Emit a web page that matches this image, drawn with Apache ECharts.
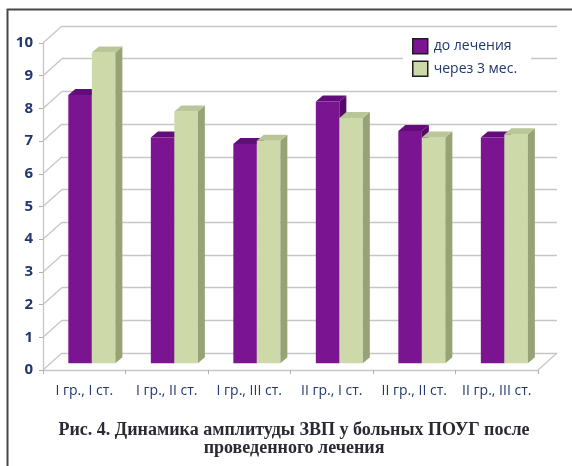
<!DOCTYPE html>
<html>
<head>
<meta charset="utf-8">
<script src="https://cdn.jsdelivr.net/npm/echarts@6/dist/echarts.min.js"></script>
<style>
  html, body { margin: 0; padding: 0; background: #fff; }
  #chart { width: 572px; height: 466px; }
</style>
</head>
<body>
<div id="chart"></div>
<script>
// Amplitude of visual evoked potentials by group / stage, before and 3 months after treatment
const categories = ['I гр., I ст.', 'I гр., II ст.', 'I гр., III ст.', 'II гр., I ст.', 'II гр., II ст.', 'II гр., III ст.'];
const beforeTreatment = [8.2, 6.9, 6.7, 8.0, 7.1, 6.9];
const after3Months = [9.5, 7.7, 6.8, 7.5, 6.9, 7.0];
const yTicks = [0, 1, 2, 3, 4, 5, 6, 7, 8, 9, 10];
const seriesNames = ['до лечения', 'через 3 мес.'];
const captionLines = ['Рис. 4. Динамика амплитуды ЗВП у больных ПОУГ после', 'проведенного лечения'];

// pseudo-3D geometry: front plane, bar plane and back wall are offset along DEPTH
const FRONT = { left: 43, right: 34, top: 43, bottom: 96 };
const DEPTH = [19, -17];
const BAR_POS = 0.4;           // bars sit this far into the depth
const BAR_DEPTH = [7, -6];     // visible thickness of a column
const shift = (g, k) => ({
  left: g.left + DEPTH[0] * k,
  right: g.right - DEPTH[0] * k,
  top: g.top + DEPTH[1] * k,
  bottom: g.bottom - DEPTH[1] * k
});

const palette = [
  { front: '#7a1490', side: '#56096a', top: '#650c7c' },
  { front: '#cdd9a9', side: '#97a375', top: '#b9c697' }
];
const labelColor = '#22366f';
const wallColor = '#c6c6c6';

function columnRenderer(pos) {
  return function (params, api) {
    const i = api.value(0);
    const v = api.value(1);
    const topPt = api.coord([i, v]);
    const basePt = api.coord([i, 0]);
    const w = api.size([1, 0])[0] * 0.285;
    const x0 = pos === 0 ? topPt[0] - w : topPt[0];
    const x1 = x0 + w;
    const yt = topPt[1], yb = basePt[1];
    const [dx, dy] = BAR_DEPTH;
    const c = palette[pos];
    return {
      type: 'group',
      children: [
        { type: 'rect', shape: { x: x0, y: yt, width: w, height: yb - yt }, style: { fill: c.front } },
        { type: 'polygon', shape: { points: [[x1, yt], [x1 + dx, yt + dy], [x1 + dx, yb + dy], [x1, yb]] }, style: { fill: c.side } },
        { type: 'polygon', shape: { points: [[x0, yt], [x0 + dx, yt + dy], [x1 + dx, yt + dy], [x1, yt]] }, style: { fill: c.top } }
      ]
    };
  };
}

// side wall and floor edges connecting the front plane to the back wall
function wallRenderer(params, api) {
  const cs = params.coordSys;
  const v = api.value(1);
  const y = api.coord([0, v])[1];
  const children = [{
    type: 'line',
    shape: { x1: cs.x, y1: y, x2: cs.x + DEPTH[0], y2: y + DEPTH[1] },
    style: { stroke: wallColor, lineWidth: 1.3 }
  }];
  if (v === 0) {
    children.push({
      type: 'line',
      shape: { x1: cs.x + cs.width, y1: y, x2: cs.x + cs.width + DEPTH[0], y2: y + DEPTH[1] },
      style: { stroke: wallColor, lineWidth: 1.3 }
    });
  }
  return { type: 'group', children };
}

const chart = echarts.init(document.getElementById('chart'), null, { renderer: 'canvas' });

const hiddenCat = { type: 'category', data: categories, show: false };
const hiddenVal = { type: 'value', min: 0, max: 10, interval: 1, show: false };

chart.setOption({
  animation: false,
  grid: [
    Object.assign({}, FRONT),
    Object.assign({}, shift(FRONT, BAR_POS)),
    Object.assign({}, shift(FRONT, 1))
  ],
  xAxis: [
    {
      type: 'category', data: categories, gridIndex: 0,
      axisLine: { lineStyle: { color: wallColor, width: 1.3 } },
      axisTick: { show: true, length: 4, lineStyle: { color: '#b0b0b0' } },
      axisLabel: { color: labelColor, fontFamily: 'Open Sans', fontSize: 14, margin: 14, interval: 0 }
    },
    Object.assign({ gridIndex: 1 }, hiddenCat),
    Object.assign({ gridIndex: 2 }, hiddenCat)
  ],
  yAxis: [
    {
      type: 'value', min: 0, max: 10, interval: 1, gridIndex: 0,
      axisLine: { show: true, lineStyle: { color: wallColor, width: 1.3 } },
      axisTick: { show: true, length: 4, lineStyle: { color: '#b0b0b0' } },
      splitLine: { show: false },
      axisLabel: { color: labelColor, fontFamily: 'Open Sans', fontWeight: 'bold', fontSize: 15, margin: 10 }
    },
    Object.assign({ gridIndex: 1 }, hiddenVal),
    {
      type: 'value', min: 0, max: 10, interval: 1, gridIndex: 2,
      axisLine: { show: false }, axisTick: { show: false }, axisLabel: { show: false },
      splitLine: { show: true, lineStyle: { color: wallColor, width: 1.3 } }
    }
  ],
  legend: {
    orient: 'vertical',
    left: 403, top: 30,
    padding: [8, 14, 6, 9],
    backgroundColor: '#ffffff',
    itemWidth: 15, itemHeight: 15, itemGap: 6,
    textStyle: { color: labelColor, fontFamily: 'Open Sans', fontSize: 14, padding: [0, 0, 0, 1] },
    data: seriesNames.map((n, k) => ({
      name: n, icon: 'rect',
      itemStyle: { color: palette[k].front, borderColor: '#1e1e1e', borderWidth: 1.5 }
    }))
  },
  series: [
    {
      type: 'custom', name: 'wall', xAxisIndex: 0, yAxisIndex: 0,
      renderItem: wallRenderer, silent: true, z: 1,
      data: yTicks.map(t => [0, t])
    },
    {
      type: 'custom', name: seriesNames[0], xAxisIndex: 1, yAxisIndex: 1,
      renderItem: columnRenderer(0), z: 3,
      itemStyle: { color: palette[0].front },
      data: beforeTreatment.map((v, i) => [i, v])
    },
    {
      type: 'custom', name: seriesNames[1], xAxisIndex: 1, yAxisIndex: 1,
      renderItem: columnRenderer(1), z: 4,
      itemStyle: { color: palette[1].front },
      data: after3Months.map((v, i) => [i, v])
    }
  ],
  graphic: [
    { type: 'line', shape: { x1: 7, y1: 9.5, x2: 572, y2: 9.5 }, style: { stroke: '#474747', lineWidth: 2 } },
    { type: 'line', shape: { x1: 7.5, y1: 9, x2: 7.5, y2: 466 }, style: { stroke: '#474747', lineWidth: 2 } },
    {
      type: 'text', x: 294, y: 421,
      style: {
        text: captionLines.join('\n'),
        textAlign: 'center',
        fill: '#2a2a33',
        font: 'bold 18px "Liberation Serif"',
        lineHeight: 18
      }
    }
  ]
});
</script>
</body>
</html>
